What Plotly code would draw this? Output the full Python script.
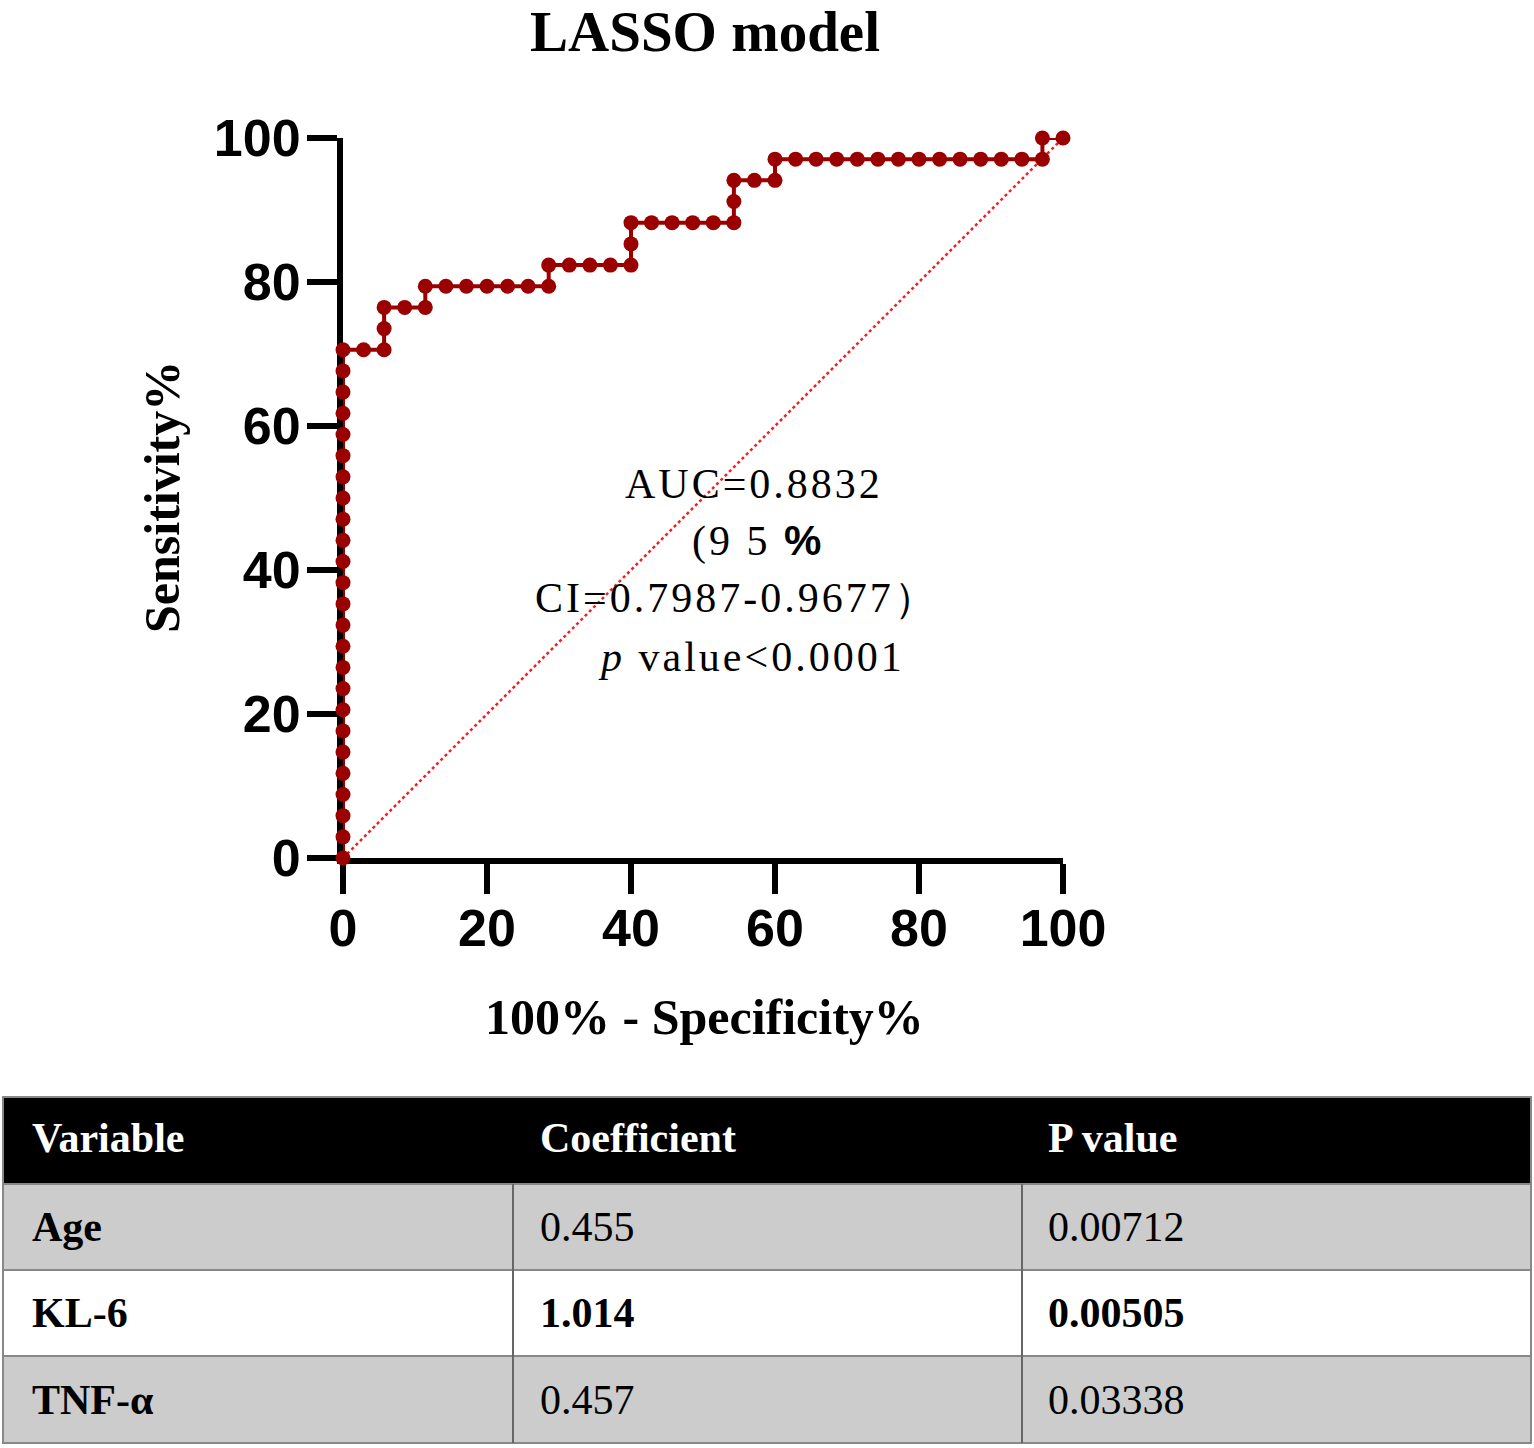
import plotly.graph_objects as go

# ---------------- data ----------------
# ROC curve (100% - Specificity%, Sensitivity%)
fpr_pct = [0, 0, 0, 0, 0, 0, 0, 0, 0, 0, 0, 0, 0, 0, 0, 0, 0, 0, 0, 0, 0, 0, 0, 0, 0,
           2.86, 5.71, 5.71, 5.71, 8.57, 11.43, 11.43,
           14.29, 17.14, 20.0, 22.86, 25.71, 28.57, 28.57,
           31.43, 34.29, 37.14, 40.0, 40.0, 40.0,
           42.86, 45.71, 48.57, 51.43, 54.29, 54.29, 54.29,
           57.14, 60.0, 60.0,
           62.86, 65.71, 68.57, 71.43, 74.29, 77.14, 80.0, 82.86, 85.71, 88.57, 91.43, 94.29, 97.14,
           97.14, 100.0]
sens_pct = [0, 2.94, 5.88, 8.82, 11.76, 14.71, 17.65, 20.59, 23.53, 26.47, 29.41, 32.35, 35.29,
            38.24, 41.18, 44.12, 47.06, 50.0, 52.94, 55.88, 58.82, 61.76, 64.71, 67.65, 70.59,
            70.59, 70.59, 73.53, 76.47, 76.47, 76.47, 79.41,
            79.41, 79.41, 79.41, 79.41, 79.41, 79.41, 82.35,
            82.35, 82.35, 82.35, 82.35, 85.29, 88.24,
            88.24, 88.24, 88.24, 88.24, 88.24, 91.18, 94.12,
            94.12, 94.12, 97.06,
            97.06, 97.06, 97.06, 97.06, 97.06, 97.06, 97.06, 97.06, 97.06, 97.06, 97.06, 97.06, 97.06,
            100.0, 100.0]
diag_x = [0, 100]
diag_y = [0, 100]
tick_vals = [0, 20, 40, 60, 80, 100]

# table
tbl_header = ["Variable", "Coefficient", "P value"]
tbl_variable = ["Age", "KL-6", "TNF-α"]
tbl_coef = ["0.455", "1.014", "0.457"]
tbl_p = ["0.00712", "0.00505", "0.03338"]
tbl_bold_row = [False, True, False]

# ---------------- layout helpers ----------------
W, H = 1534, 1448
def PX(px):
    return px / W
def PY(py):
    return 1 - py / H

SERIF = "Liberation Serif, Times New Roman, serif"
SANS = "Liberation Sans, Arial, sans-serif"
CURVE = "#9b0000"

fig = go.Figure()
fig.add_trace(go.Scatter(
    x=diag_x, y=diag_y, mode="lines",
    line=dict(color="#ff1a1a", width=2.5, dash="dot"),
    hoverinfo="skip", showlegend=False, cliponaxis=False))
fig.add_trace(go.Scatter(
    x=fpr_pct, y=sens_pct, mode="lines+markers",
    line=dict(color=CURVE, width=4),
    marker=dict(color=CURVE, size=15),
    showlegend=False, cliponaxis=False))

axis_common = dict(
    range=[0, 100], tickvals=tick_vals, showgrid=False, zeroline=False,
    showline=True, linecolor="black", linewidth=6,
    ticks="outside", ticklen=30, tickwidth=6, tickcolor="black",
    tickfont=dict(family=SANS, size=52, color="black", weight="bold"),
    layer="below traces", fixedrange=True, automargin=False)

fig.update_layout(
    template="none",
    width=W, height=H,
    margin=dict(l=0, r=0, t=0, b=0, pad=0, autoexpand=False),
    paper_bgcolor="white", plot_bgcolor="white",
    xaxis=dict(domain=[PX(343), PX(1063)], ticklabelstandoff=-10, **axis_common),
    yaxis=dict(domain=[PY(858), PY(138)], ticklabelstandoff=-4, **axis_common),
)

annotations = []
# title
annotations.append(dict(text="<b>LASSO model</b>", x=PX(705), y=PY(32), xref="paper", yref="paper",
                        showarrow=False, xanchor="center", yanchor="middle",
                        font=dict(family=SERIF, size=57, color="black")))
# axis titles
annotations.append(dict(text="<b>100% - Specificity%</b>", x=PX(704), y=PY(1017), xref="paper", yref="paper",
                        showarrow=False, xanchor="center", yanchor="middle",
                        font=dict(family=SERIF, size=50, color="black")))
annotations.append(dict(text="<b>Sensitivity%</b>", x=PX(162), y=PY(497), xref="paper", yref="paper",
                        showarrow=False, xanchor="center", yanchor="middle", textangle=-90,
                        font=dict(family=SERIF, size=50, color="black")))

# AUC text block
auc_lines = [
    ("AUC=0.8832", 754, 484),
    ("(9 5 <span style='font-family:Liberation Sans,Arial'><b>%</b></span>", 758, 541),
    ("CI=0.7987-0.9677）", 737, 598),
    ("<i>p</i> value&lt;0.0001", 751, 657),
]
for txt, cx, cy in auc_lines:
    annotations.append(dict(text=f"<span style='letter-spacing:3px'>{txt}</span>",
                            x=PX(cx), y=PY(cy), xref="paper", yref="paper",
                            showarrow=False, xanchor="center", yanchor="middle",
                            font=dict(family=SERIF, size=42, color="black")))

# table
shapes = []
col_x = [3, 513, 1022, 1531]
row_y = [1097, 1184, 1270, 1356, 1443]
row_fill = ["#cccccc", "#ffffff", "#cccccc"]
shapes.append(dict(type="rect", xref="paper", yref="paper",
                   x0=PX(col_x[0]), x1=PX(col_x[-1]), y0=PY(row_y[1]), y1=PY(row_y[0]),
                   fillcolor="black", line=dict(color="#888888", width=2), layer="below"))
for r in range(3):
    shapes.append(dict(type="rect", xref="paper", yref="paper",
                       x0=PX(col_x[0]), x1=PX(col_x[-1]), y0=PY(row_y[r + 2]), y1=PY(row_y[r + 1]),
                       fillcolor=row_fill[r], line=dict(color="#888888", width=2), layer="below"))
for cxl in col_x[1:3]:
    shapes.append(dict(type="line", xref="paper", yref="paper",
                       x0=PX(cxl), x1=PX(cxl), y0=PY(row_y[-1]), y1=PY(row_y[1]),
                       line=dict(color="#666666", width=2), layer="below"))

text_x = [30, 538, 1046]
for c, h in enumerate(tbl_header):
    annotations.append(dict(text=f"<b>{h}</b>", x=PX(text_x[c]), y=PY(1138), xref="paper", yref="paper",
                            showarrow=False, xanchor="left", yanchor="middle",
                            font=dict(family=SERIF, size=42, color="white")))
for r in range(3):
    cy = (row_y[r + 1] + row_y[r + 2]) / 2
    vals = [tbl_variable[r], tbl_coef[r], tbl_p[r]]
    for c, v in enumerate(vals):
        bold = (c == 0) or tbl_bold_row[r]
        t = f"<b>{v}</b>" if bold else v
        annotations.append(dict(text=t, x=PX(text_x[c]), y=PY(cy), xref="paper", yref="paper",
                                showarrow=False, xanchor="left", yanchor="middle",
                                font=dict(family=SERIF, size=42, color="black")))

fig.update_layout(annotations=annotations, shapes=shapes)
fig.write_html("out.html",
               config={"displayModeBar": False},
               post_script="document.body.style.margin='0';document.body.style.padding='0';")
